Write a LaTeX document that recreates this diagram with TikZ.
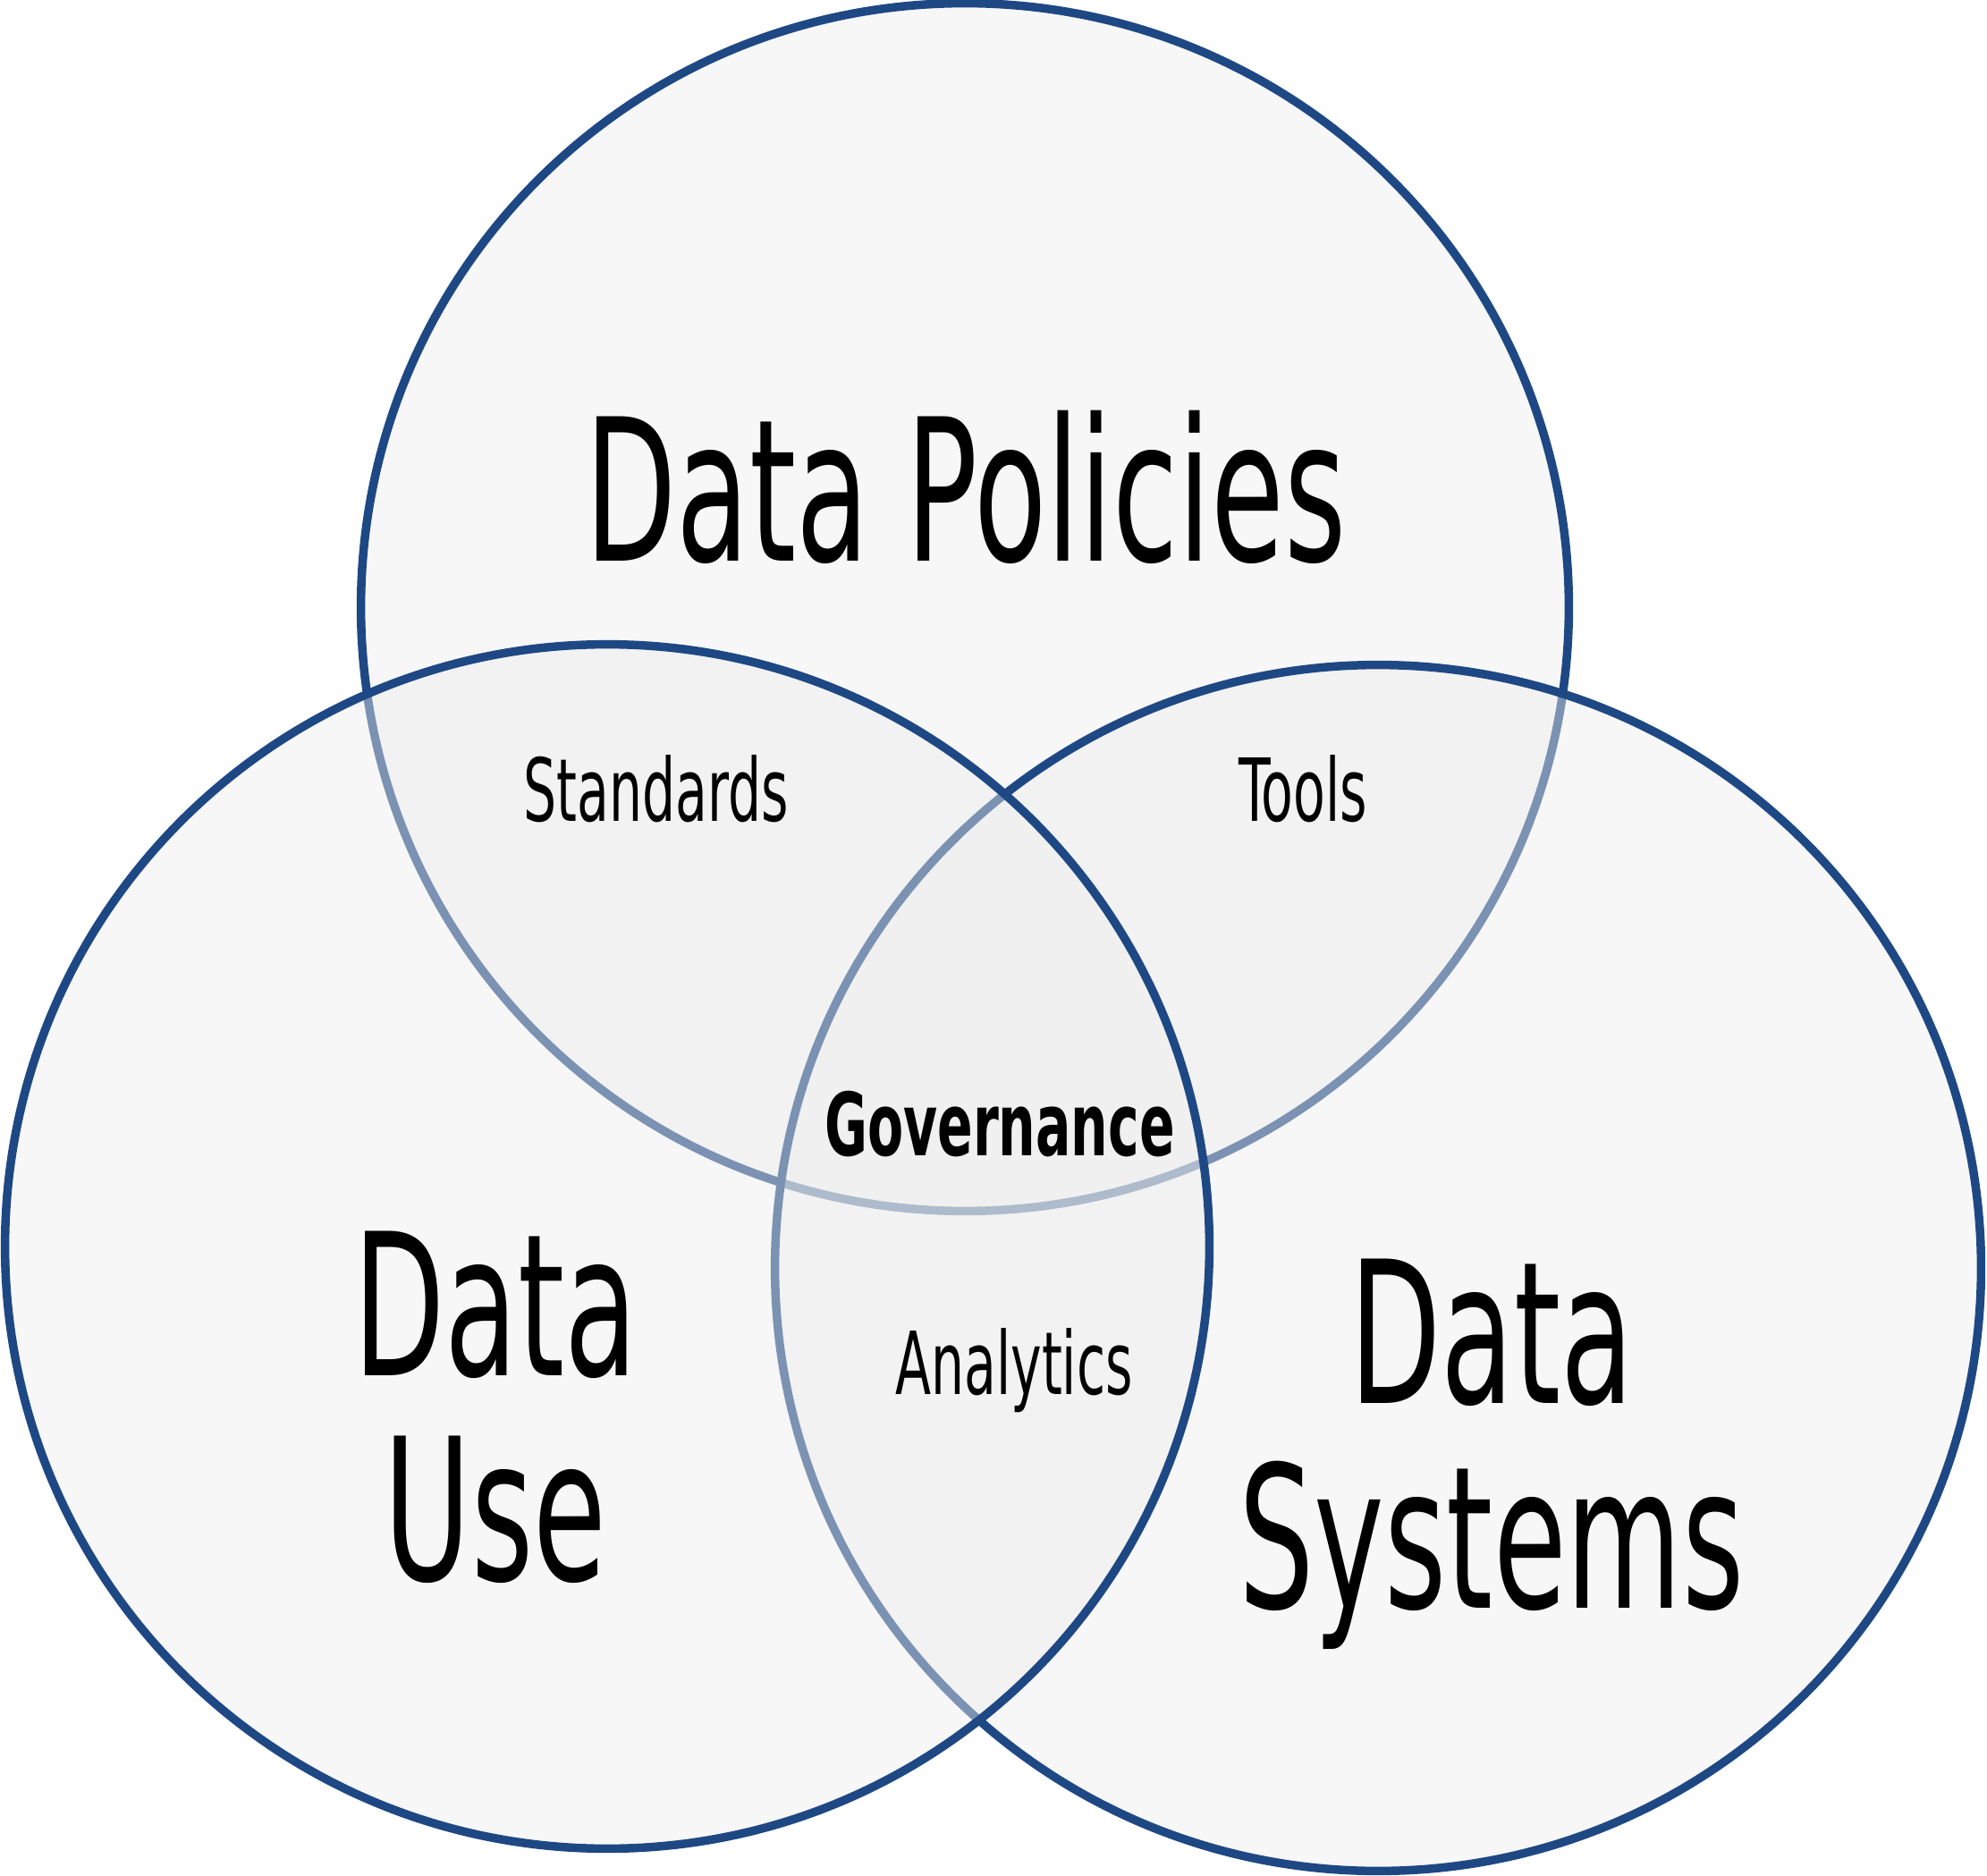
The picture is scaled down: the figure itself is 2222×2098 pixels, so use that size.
\documentclass[tikz,border=0pt]{standalone}
\usepackage{fontspec}
\setmainfont{DejaVu Sans}[FakeStretch=0.6]
\usepackage{tikz}
\definecolor{ringblue}{RGB}{30,72,132}
\definecolor{ringfill}{RGB}{237,237,237}

\begin{document}
\begin{tikzpicture}[x=0.01cm, y=-0.01cm,
  ring/.style={draw=ringblue, line width=2.7pt, fill=ringfill, fill opacity=0.45},
  big/.style={font=\fontsize{63}{65}\selectfont, align=center, inner sep=0pt},
  small/.style={font=\fontsize{27.7}{30}\selectfont, inner sep=0pt, anchor=base}]
  \useasboundingbox (0,0) rectangle (2222,2098);
  % circles
  \draw[ring] (1079,679) circle[radius=6.75cm];
  \draw[ring] (1541,1418) circle[radius=6.74cm];
  \draw[ring] (679,1394) circle[radius=6.73cm];
  % big labels
  \node[big, anchor=base] (policies) at (1080,628) {Data Policies};
  \node[big] (use) at (554,1574) {Data\\Use};
  \node[big] (systems) at (1668,1626) {Data\\Systems};
  % overlaps
  \node[small] (standards) at (734,918) {Standards};
  \node[small] (tools) at (1457,918) {Tools};
  \node[small, font=\fontsize{27.7}{30}\selectfont\bfseries] (governance) at (1118,1292) {Governance};
  \node[small] (analytics) at (1134,1559) {Analytics};
\end{tikzpicture}
\end{document}
